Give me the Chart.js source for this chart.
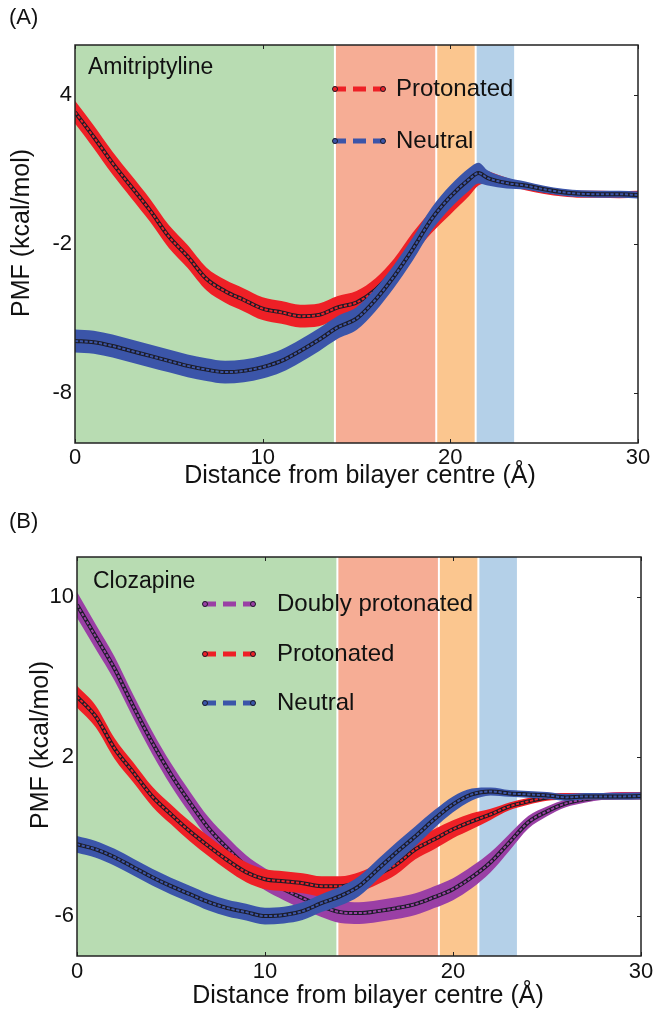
<!DOCTYPE html>
<html>
<head>
<meta charset="utf-8">
<script src="https://cdn.jsdelivr.net/npm/chart.js@4.4.1/dist/chart.umd.min.js"></script>
<style>
  html, body { margin: 0; padding: 0; background: #fff; }
  #wrap { position: relative; width: 658px; height: 1013px; }
  canvas { position: absolute; left: 0; }
  #pmfA { top: 0; }
  #pmfB { top: 500px; }
</style>
</head>
<body>
<div id="wrap">
  <canvas id="pmfA" width="658" height="500" style="width:658px;height:500px"></canvas>
  <canvas id="pmfB" width="658" height="513" style="width:658px;height:513px"></canvas>
</div>
<script>
/* ── data: panel A (amitriptyline) ─────────────────────────────────── */
const distA = [0, 1, 2, 3, 4, 5, 6, 7, 8, 9, 10, 11, 12, 13, 14, 15, 16, 17, 18, 19, 20, 21, 21.5, 22, 23, 24, 25, 26, 27, 28, 29, 30];
const amiProtonated    = [3.3, 2.3, 1.25, 0.3, -0.65, -1.7, -2.5, -3.4, -3.9, -4.25, -4.6, -4.75, -4.9, -4.85, -4.55, -4.35, -3.85, -3.05, -2.0, -1.1, -0.35, 0.35, 0.7, 0.68, 0.5, 0.3, 0.15, 0.05, 0.0, 0.0, -0.02, 0.0];
const amiProtonatedErr = [0.46, 0.46, 0.46, 0.46, 0.46, 0.46, 0.46, 0.46, 0.46, 0.46, 0.46, 0.46, 0.46, 0.46, 0.46, 0.46, 0.46, 0.46, 0.46, 0.46, 0.46, 0.42, 0.35, 0.25, 0.16, 0.14, 0.14, 0.14, 0.14, 0.14, 0.14, 0.14];
const amiNeutral       = [-5.9, -5.95, -6.1, -6.3, -6.5, -6.7, -6.9, -7.05, -7.15, -7.1, -6.95, -6.7, -6.3, -5.85, -5.35, -5.0, -4.25, -3.3, -2.2, -1.0, -0.1, 0.6, 0.85, 0.65, 0.45, 0.35, 0.2, 0.08, 0.02, 0.0, 0.0, -0.03];
const amiNeutralErr    = [0.46, 0.46, 0.46, 0.46, 0.46, 0.46, 0.46, 0.46, 0.46, 0.46, 0.46, 0.46, 0.46, 0.46, 0.46, 0.46, 0.46, 0.46, 0.46, 0.46, 0.46, 0.46, 0.42, 0.3, 0.22, 0.16, 0.14, 0.14, 0.14, 0.14, 0.14, 0.14];

/* ── data: panel B (clozapine) ─────────────────────────────────────── */
const distB = [0, 1, 2, 3, 4, 5, 6, 7, 8, 9, 10, 11, 12, 13, 14, 15, 16, 17, 18, 19, 20, 21, 22, 23, 24, 25, 26, 27, 28, 29, 30];
const cloDoubly        = [9.6, 8.0, 6.4, 4.5, 2.7, 1.1, -0.3, -1.6, -2.6, -3.5, -4.15, -4.65, -5.1, -5.5, -5.8, -5.85, -5.75, -5.6, -5.4, -5.05, -4.65, -4.05, -3.3, -2.3, -1.3, -0.75, -0.35, -0.15, 0.0, 0.05, 0.05];
const cloDoublyErr     = [0.65, 0.62, 0.6, 0.58, 0.57, 0.56, 0.55, 0.55, 0.55, 0.55, 0.55, 0.55, 0.55, 0.55, 0.55, 0.55, 0.55, 0.55, 0.55, 0.55, 0.55, 0.55, 0.5, 0.42, 0.32, 0.25, 0.2, 0.17, 0.17, 0.17, 0.17];
const cloProtonated    = [5.0, 4.0, 2.4, 1.2, 0.0, -0.9, -1.75, -2.5, -3.2, -3.8, -4.15, -4.25, -4.35, -4.5, -4.5, -4.3, -3.9, -3.4, -2.65, -2.15, -1.65, -1.25, -0.9, -0.5, -0.25, -0.05, 0.0, 0.0, 0.0, 0.02, 0.02];
const cloProtonatedErr = [0.55, 0.55, 0.52, 0.5, 0.5, 0.5, 0.5, 0.5, 0.5, 0.5, 0.5, 0.5, 0.5, 0.5, 0.5, 0.5, 0.5, 0.5, 0.5, 0.5, 0.45, 0.4, 0.28, 0.2, 0.17, 0.17, 0.17, 0.17, 0.17, 0.17, 0.17];
const cloNeutral       = [-2.4, -2.65, -3.05, -3.55, -4.05, -4.5, -4.9, -5.3, -5.6, -5.8, -6.0, -5.95, -5.75, -5.35, -5.0, -4.5, -3.65, -2.8, -2.0, -1.15, -0.4, 0.1, 0.25, 0.15, 0.1, 0.05, -0.05, 0.0, 0.0, 0.0, 0.02];
const cloNeutralErr    = [0.42, 0.42, 0.42, 0.42, 0.42, 0.42, 0.42, 0.42, 0.42, 0.42, 0.42, 0.42, 0.45, 0.45, 0.47, 0.5, 0.5, 0.5, 0.5, 0.45, 0.4, 0.3, 0.2, 0.17, 0.17, 0.17, 0.17, 0.17, 0.17, 0.17, 0.17];

/* ── ticks + membrane regions ──────────────────────────────────────── */
const xTicks  = [0, 10, 20, 30];
const yTicksA = [-8, -2, 4];
const yTicksB = [-6, 2, 10];
const bandEdges  = [0, 13.85, 19.25, 21.35, 23.4];
const bandColors = ['#b8dcb2', '#f6ad95', '#fbc68f', '#b4d0e8'];

const FONT = "'Liberation Sans', Arial, Helvetica, sans-serif";
const DARK = '#1c1c28';

/* banda de error (lower, upper con fill) + línea media tipo "cadena de círculos":
   trazo oscuro ancho y encima un trazo del color de la serie punteado */
function seriesSets(list, xs, ys, err, color, label, orderBase) {
  const lowerIdx = list.length;
  const pts = (f) => xs.map((x, i) => ({ x: x, y: f(i) }));
  const common = { cubicInterpolationMode: 'monotone', pointRadius: 0, borderWidth: 0 };
  list.push(Object.assign({}, common, { data: pts(i => ys[i] - err[i]), order: orderBase + 3, fill: false }));
  list.push(Object.assign({}, common, {
    data: pts(i => ys[i] + err[i]), order: orderBase + 2,
    fill: { target: lowerIdx }, backgroundColor: color,
  }));
  list.push({
    label: label, legendColor: color,
    data: pts(i => ys[i]), order: orderBase + 1,
    cubicInterpolationMode: 'monotone',
    borderColor: DARK, borderWidth: 4, pointRadius: 0, fill: false,
  });
  list.push({
    data: pts(i => ys[i]), order: orderBase,
    cubicInterpolationMode: 'monotone',
    borderColor: color, borderWidth: 2, borderDash: [3.2, 1.6],
    pointRadius: 0, fill: false,
  });
}

/* bandas de fondo, marco, ticks hacia dentro, leyenda y textos */
const decor = {
  id: 'decor',
  beforeDatasetsDraw(chart) {
    const { ctx, chartArea: a, scales: { x } } = chart;
    ctx.save();
    for (let i = 0; i < bandColors.length; i++) {
      const x0 = x.getPixelForValue(bandEdges[i]);
      const x1 = x.getPixelForValue(bandEdges[i + 1]);
      ctx.fillStyle = bandColors[i];
      ctx.fillRect(x0, a.top, x1 - x0, a.bottom - a.top);
    }
    ctx.strokeStyle = '#ffffff';
    ctx.lineWidth = 2;
    for (let i = 1; i < bandEdges.length - 1; i++) {
      const px = x.getPixelForValue(bandEdges[i]);
      ctx.beginPath(); ctx.moveTo(px, a.top); ctx.lineTo(px, a.bottom); ctx.stroke();
    }
    ctx.restore();
  },
  afterDatasetsDraw(chart, args, opts) {
    const { ctx, chartArea: a, scales: { x, y } } = chart;
    ctx.save();
    // ticks interiores
    ctx.strokeStyle = '#222';
    ctx.lineWidth = 1;
    x.ticks.forEach(t => {
      const px = Math.round(x.getPixelForValue(t.value)) + 0.5;
      ctx.beginPath();
      ctx.moveTo(px, a.bottom); ctx.lineTo(px, a.bottom - 4);
      ctx.moveTo(px, a.top); ctx.lineTo(px, a.top + 4);
      ctx.stroke();
    });
    y.ticks.forEach(t => {
      const py = Math.round(y.getPixelForValue(t.value)) + 0.5;
      ctx.beginPath(); ctx.moveTo(a.right, py); ctx.lineTo(a.right - 4, py); ctx.stroke();
    });
    // marco
    ctx.strokeStyle = '#222';
    ctx.lineWidth = 1.5;
    ctx.strokeRect(a.left, a.top, a.right - a.left, a.bottom - a.top);

    // leyenda
    const items = chart.data.datasets.filter(d => d.label);
    items.sort((p, q) => opts.legendOrder.indexOf(p.label) - opts.legendOrder.indexOf(q.label));
    items.forEach((d, i) => {
      const ly = opts.legend.rows[i];
      const x0 = opts.legend.x0, x1 = opts.legend.x1;
      ctx.strokeStyle = d.legendColor;
      ctx.lineWidth = 5;
      ctx.setLineDash([13, 7]);
      ctx.beginPath(); ctx.moveTo(x0, ly); ctx.lineTo(x1, ly); ctx.stroke();
      ctx.setLineDash([]);
      [x0 + 2, x1 - 2].forEach(cx => {
        ctx.beginPath(); ctx.arc(cx, ly, 2.5, 0, Math.PI * 2);
        ctx.fillStyle = d.legendColor; ctx.fill();
        ctx.lineWidth = 1; ctx.strokeStyle = DARK; ctx.stroke();
      });
      ctx.fillStyle = '#111';
      ctx.font = '24px ' + FONT;
      ctx.textAlign = 'left';
      ctx.textBaseline = 'middle';
      ctx.fillText(d.label, opts.legend.textX, ly);
    });

    // textos
    ctx.fillStyle = '#111';
    ctx.textBaseline = 'middle';
    ctx.textAlign = 'left';
    ctx.font = '22px ' + FONT;
    ctx.fillText(opts.panel, 9, opts.panelY);
    ctx.font = '23px ' + FONT;
    ctx.fillText(opts.compound.text, opts.compound.x, opts.compound.y);
    ctx.font = '25px ' + FONT;
    ctx.textAlign = 'center';
    ctx.fillText('Distance from bilayer centre (Å)', opts.xTitle.x, opts.xTitle.y);
    ctx.translate(opts.yTitle.x, opts.yTitle.y);
    ctx.rotate(-Math.PI / 2);
    ctx.fillText('PMF (kcal/mol)', 0, 0);
    ctx.restore();
  },
};

function makeChart(id, datasets, yMin, yMax, yTicks, box, decorOpts) {
  const tickFont = { family: FONT, size: 22 };
  return new Chart(document.getElementById(id), {
    type: 'line',
    data: { datasets: datasets },
    options: {
      responsive: false,
      animation: false,
      events: [],
      layout: { padding: { top: box.top, right: box.right, left: 0, bottom: 0 } },
      plugins: { legend: { display: false }, tooltip: { enabled: false }, decor: decorOpts },
      scales: {
        x: {
          type: 'linear', min: 0, max: 30,
          afterBuildTicks: (s) => { s.ticks = xTicks.map(v => ({ value: v })); },
          afterFit: (s) => { s.height = box.xHeight; },
          grid: { display: false, drawTicks: false },
          border: { display: false },
          ticks: { font: tickFont, color: '#111', padding: box.xPad, maxRotation: 0 },
        },
        y: {
          type: 'linear', min: yMin, max: yMax,
          afterBuildTicks: (s) => { s.ticks = yTicks.map(v => ({ value: v })); },
          afterFit: (s) => { s.width = box.left; },
          grid: { display: false, drawTicks: false },
          border: { display: false },
          ticks: { font: tickFont, color: '#111', padding: 3 },
        },
      },
    },
    plugins: [decor],
  });
}

/* ── panel A ───────────────────────────────────────────────────────── */
const setsA = [];
seriesSets(setsA, distA, amiNeutral, amiNeutralErr, '#3b55a9', 'Neutral', 10);
seriesSets(setsA, distA, amiProtonated, amiProtonatedErr, '#ee2026', 'Protonated', 20);
makeChart('pmfA', setsA, -10, 6, yTicksA,
  { top: 45, right: 20, left: 75, xHeight: 57, xPad: 1.5 },
  {
    panel: '(A)', panelY: 18,
    compound: { text: 'Amitriptyline', x: 88, y: 68 },
    legendOrder: ['Protonated', 'Neutral'],
    legend: { x0: 333, x1: 385, textX: 396, rows: [89, 141] },
    xTitle: { x: 360, y: 476 },
    yTitle: { x: 22, y: 233 },
  });

/* ── panel B ───────────────────────────────────────────────────────── */
const setsB = [];
seriesSets(setsB, distB, cloNeutral, cloNeutralErr, '#3b55a9', 'Neutral', 10);
seriesSets(setsB, distB, cloProtonated, cloProtonatedErr, '#ee2026', 'Protonated', 20);
seriesSets(setsB, distB, cloDoubly, cloDoublyErr, '#9a3fa5', 'Doubly protonated', 30);
makeChart('pmfB', setsB, -8, 12, yTicksB,
  { top: 57, right: 17, left: 77, xHeight: 57, xPad: 2.5 },
  {
    panel: '(B)', panelY: 22,
    compound: { text: 'Clozapine', x: 93, y: 82 },
    legendOrder: ['Doubly protonated', 'Protonated', 'Neutral'],
    legend: { x0: 203, x1: 255, textX: 277, rows: [104, 154, 203] },
    xTitle: { x: 368, y: 496 },
    yTitle: { x: 41, y: 245 },
  });
</script>
</body>
</html>
